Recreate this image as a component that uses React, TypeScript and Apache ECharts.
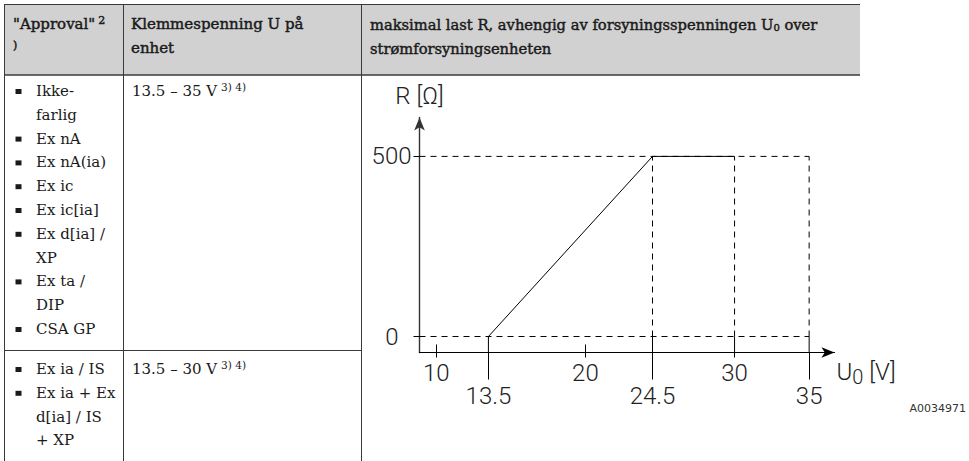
import React, { useEffect, useRef } from 'react';
import * as echarts from 'echarts';

// ---- chart data ----
const X_LABELS_MAJOR = [10, 20, 30];
const X_LABELS_BREAK = [13.5, 24.5, 35];
const Y_TICKS = [0, 500];
const U_CURVE = [13.5, 24.5, 30];
const R_CURVE = [0, 500, 500];
const U_GUIDES = [24.5, 30, 35];
const U_LIMIT = 35;
const R_LIMIT = 500;
const X_MIN = 8.88;
const X_MAX = 36.7;
const Y_MIN = -44.4;
const Y_MAX = 608;

// ---- table texts ----
const HEADER_APPROVAL = '"Approval"';
const HEADER_VOLTAGE = ['Klemmespenning U på', 'enhet'];
const HEADER_LOAD = ['maksimal last R, avhengig av forsyningsspenningen U', ' over', 'strømforsyningsenheten'];
const APPROVALS_ROW1 = [['Ikke-', 'farlig'], ['Ex nA'], ['Ex nA(ia)'], ['Ex ic'], ['Ex ic[ia]'], ['Ex d[ia] /', 'XP'], ['Ex ta /', 'DIP'], ['CSA GP']];
const APPROVALS_ROW2 = [['Ex ia / IS'], ['Ex ia + Ex', 'd[ia] / IS', '+ XP']];
const VOLTAGE_RANGES = ['13.5 – 35 V', '13.5 – 30 V'];
const FOOTNOTE = '3) 4)';
const FIGURE_ID = 'A0034971';

const SERIF = "'DejaVu Serif', serif";
const SANS = "Roboto, 'Open Sans', sans-serif";
const INK = '#1a1a1a';
const RULE = '#3a3a3a';

function buildGraphic() {
  const g: any[] = [];
  g.push({ type: 'rect', silent: true, z: 0, shape: { x: 4, y: 4, width: 856, height: 71 }, style: { fill: '#d1d1d1' } });
  const hl = (x1: number, x2: number, y: number, w = 1) =>
    g.push({ type: 'line', silent: true, z: 1, shape: { x1, y1: y, x2, y2: y }, style: { stroke: RULE, lineWidth: w } });
  const vl = (x: number, y1: number, y2: number, w = 1) =>
    g.push({ type: 'line', silent: true, z: 1, shape: { x1: x, y1, x2: x, y2 }, style: { stroke: RULE, lineWidth: w } });
  hl(4, 860, 4.5);
  hl(4, 860, 75, 1.5);
  hl(4, 361.5, 350.5);
  vl(4.5, 4, 461);
  vl(123.5, 4, 461);
  vl(361.5, 4, 461);

  const headStyle = {
    fontSize: 15, fontFamily: SERIF, fill: INK, verticalAlign: 'middle', align: 'left',
    stroke: INK, lineWidth: 0.45,
  };
  const txt = (x: number, y: number, style: any) => g.push({ type: 'text', silent: true, z: 2, x, y, style });

  txt(13, 24, {
    ...headStyle, text: HEADER_APPROVAL + '{sup|2}',
    rich: { sup: { fontSize: 11, fontFamily: SERIF, fill: INK, verticalAlign: 'top', padding: [0, 0, 8, 3] } },
  });
  txt(13, 45, { ...headStyle, fontSize: 11, text: ')' });
  txt(131, 24, { ...headStyle, text: HEADER_VOLTAGE[0] });
  txt(131, 48, { ...headStyle, text: HEADER_VOLTAGE[1] });
  txt(370, 24, {
    ...headStyle, fontSize: 14.7, text: HEADER_LOAD[0] + '{sub|0}' + HEADER_LOAD[1],
    rich: { sub: { fontSize: 10, fontFamily: SERIF, fill: INK, verticalAlign: 'bottom', padding: [7, 0, 0, 0] } },
  });
  txt(370, 48, { ...headStyle, fontSize: 14.7, text: HEADER_LOAD[2] });

  const bodyStyle = { fontSize: 15, fontFamily: SERIF, fill: INK, verticalAlign: 'middle', align: 'left' };
  const step = 23.8;
  const list = (items: string[][], y0: number) => {
    let y = y0;
    items.forEach((item) => {
      item.forEach((line, i) => {
        if (i === 0) {
          g.push({ type: 'rect', silent: true, z: 2, shape: { x: 15.5, y: y - 2, width: 6, height: 5 }, style: { fill: INK } });
        }
        txt(36, y, { ...bodyStyle, text: line });
        y += step;
      });
    });
  };
  list(APPROVALS_ROW1, 91);
  list(APPROVALS_ROW2, 369);

  const supRich = { sup: { fontSize: 10.5, fontFamily: SERIF, fill: INK, verticalAlign: 'top', padding: [0, 0, 8, 4] } };
  txt(132, 91, { ...bodyStyle, text: VOLTAGE_RANGES[0] + '{sup|' + FOOTNOTE + '}', rich: supRich });
  txt(132, 369, { ...bodyStyle, text: VOLTAGE_RANGES[1] + '{sup|' + FOOTNOTE + '}', rich: supRich });

  txt(966, 408, { text: FIGURE_ID, fontSize: 11, fontFamily: "'DejaVu Sans', sans-serif", fill: '#333', align: 'right', verticalAlign: 'middle' });
  return g;
}

export default function App() {
  const ref = useRef<HTMLDivElement>(null);
  useEffect(() => {
    if (!ref.current) return;
    const chart = echarts.init(ref.current, null, { renderer: 'svg' });
    const axisFont = { fontFamily: SANS, fontSize: 24, fontWeight: 300, color: '#222' };
    const lineCol = '#000000';
    const dashed = { color: lineCol, width: 1, type: [6, 5] as any };
    const solid = { color: lineCol, width: 1 };
    const seg = (data: number[][], style: any) => ({
      type: 'line', data, symbol: 'none', silent: true, clip: false, lineStyle: style, z: 2,
    });
    const innerTicks = X_LABELS_MAJOR.filter((v) => !U_GUIDES.includes(v) && !X_LABELS_BREAK.includes(v));
    const stubs = Array.from(new Set([U_CURVE[0], ...U_GUIDES]));

    const series: any[] = [];
    Y_TICKS.forEach((r) => series.push(seg([[X_MIN, r], [U_LIMIT, r]], dashed)));
    U_GUIDES.forEach((u) => series.push(seg([[u, 0], [u, R_LIMIT]], dashed)));
    stubs.forEach((u) => series.push(seg([[u, 0], [u, Y_MIN]], solid)));
    series.push({ ...seg(U_CURVE.map((u, i) => [u, R_CURVE[i]]), solid), z: 3 });

    const baseX = {
      type: 'value', min: X_MIN, max: X_MAX, position: 'bottom', splitLine: { show: false },
    };
    chart.setOption({
      animation: false,
      backgroundColor: '#ffffff',
      grid: { left: 419.5, top: 117.5, right: 134.5, bottom: 108.5, containLabel: false, outerBoundsMode: 'none' },
      xAxis: [
        {
          ...baseX,
          axisLine: { show: true, onZero: false, symbol: ['none', 'arrow'], symbolSize: [8, 13], lineStyle: { color: lineCol, width: 1.2 } },
          axisTick: { show: true, customValues: X_LABELS_MAJOR, length: 5, lineStyle: { color: lineCol } },
          axisLabel: { customValues: X_LABELS_MAJOR, margin: 8, ...axisFont },
          name: '{u|U}{s|0}{u| [V]}',
          nameLocation: 'end',
          nameGap: 2,
          nameTextStyle: {
            align: 'left', verticalAlign: 'top', padding: [4, 0, 0, 0],
            rich: {
              u: { ...axisFont, verticalAlign: 'middle' },
              s: { ...axisFont, fontSize: 20, verticalAlign: 'bottom', padding: [10, 0, 0, 0] },
            },
          },
        },
        {
          ...baseX,
          axisLine: { show: false, onZero: false },
          axisTick: { show: true, customValues: X_LABELS_BREAK, length: 27, lineStyle: { color: lineCol } },
          axisLabel: { customValues: X_LABELS_BREAK, margin: 31, ...axisFont },
        },
        {
          ...baseX,
          axisLine: { show: false, onZero: false },
          axisTick: { show: true, inside: true, customValues: innerTicks, length: 8, lineStyle: { color: lineCol } },
          axisLabel: { show: false },
        },
      ],
      yAxis: {
        type: 'value', min: Y_MIN, max: Y_MAX, splitLine: { show: false },
        axisLine: { show: true, onZero: false, symbol: ['none', 'arrow'], symbolSize: [8, 13], lineStyle: { color: '#333', width: 1.4 } },
        axisTick: { show: true, customValues: Y_TICKS, length: 6, lineStyle: { color: lineCol } },
        axisLabel: {
          customValues: Y_TICKS, margin: 8,
          formatter: (v: number) => (v === 0 ? '{z|' + v + '}' : '{n|' + v + '}'),
          rich: { z: { ...axisFont, padding: [0, 13, 0, 0] }, n: { ...axisFont } },
        },
        name: 'R [Ω]',
        nameLocation: 'end',
        nameGap: 10,
        nameTextStyle: { ...axisFont, align: 'center' },
      },
      graphic: buildGraphic(),
      series,
    });
    return () => chart.dispose();
  }, []);
  return <div ref={ref} style={{ position: 'absolute', left: 0, top: 0, width: 969, height: 461 }} />;
}
